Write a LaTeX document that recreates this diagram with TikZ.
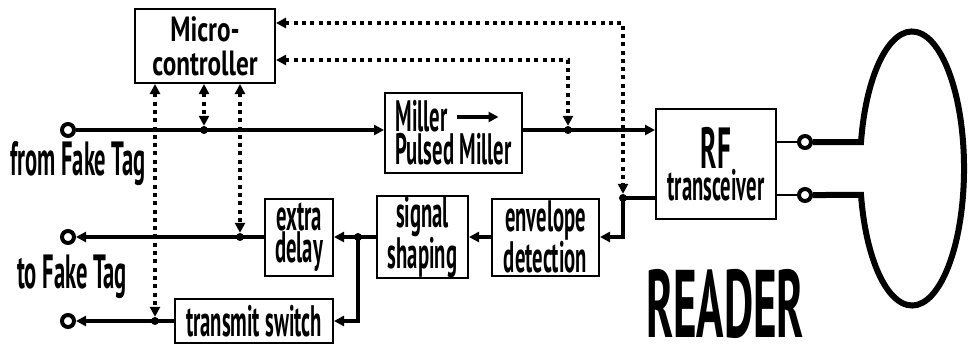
\documentclass[tikz,border=0pt]{standalone}
\usepackage{fontspec}
\setmainfont[FakeStretch=0.47]{PT Sans}
\newfontfamily\mcufont[FakeStretch=0.72]{PT Sans}
\newfontfamily\lblfont[FakeStretch=0.47]{PT Sans}
\usetikzlibrary{arrows.meta}

\begin{document}
\begin{tikzpicture}[
  x=1pt,y=-1pt,
  block/.style={draw,line width=2pt,inner sep=0pt,align=center,font=\bfseries\fontsize{44}{31}\selectfont},
  wire/.style={line width=4pt},
  ctrl/.style={line width=4pt,dash pattern=on 4pt off 4.3pt},
  tip/.style={-{Triangle[length=10pt,width=10pt]}},
  tips/.style={{Triangle[length=10pt,width=10pt]}-{Triangle[length=10pt,width=10pt]}},
  terminal/.style={circle,draw,line width=4pt,fill=white,minimum size=12pt,inner sep=0pt},
  junction/.style={circle,fill,minimum size=8pt,inner sep=0pt},
  lbl/.style={inner sep=0pt,font=\lblfont\bfseries\fontsize{48}{48}\selectfont}
]
\useasboundingbox (0,0) rectangle (968,349);

% blocks
\node[block,minimum width=140pt,minimum height=74pt,font=\mcufont\bfseries\fontsize{35}{34}\selectfont] (mcu) at (205,46)
  {Micro-\\controller};
\node[block,minimum width=137pt,minimum height=80pt,align=left] (miller) at (453.5,133)
  {Miller\hspace{48pt}\\Pulsed Miller};
\node[block,minimum width=120pt,minimum height=110pt] (rf) at (716,164)
  {{\fontsize{58}{40}\selectfont RF}\\transceiver};
\node[block,minimum width=107pt,minimum height=77pt] (env) at (545.5,237)
  {envelope\\detection};
\node[block,minimum width=91pt,minimum height=77pt] (shape) at (422.5,237)
  {signal\\shaping};
\node[block,minimum width=68pt,minimum height=77pt] (delay) at (299,237)
  {extra\\delay};
\node[block,minimum width=158pt,minimum height=44pt] (switch) at (254,321)
  {transmit switch};
\draw[line width=3.5pt,tip] ([xshift=3.5pt,yshift=16pt]miller.center) -- ([xshift=45pt,yshift=16pt]miller.center);

% terminals and junctions
\node[terminal] (inA) at (68,130) {};
\node[terminal] (outA) at (68,237) {};
\node[terminal] (outB) at (68,321) {};
\node[terminal] (ant1) at (805,142) {};
\node[terminal] (ant2) at (805,195) {};
\node[junction] (j1) at (204,130) {};
\node[junction] (j2) at (568,130) {};
\node[junction] (j3) at (623,198) {};
\node[junction] (j4) at (358,237) {};
\node[junction] (j5) at (240,237) {};
\node[junction] (j6) at (155,321) {};

% signal path
\draw[wire,tip] (inA) -- (inA -| miller.west);
\draw[wire,tip] (miller.east |- inA) -- (rf.west |- inA);
\draw[wire,tip] (rf.west |- j3) -- (j3.center) |- (env.east);
\draw[wire,tip] (env.west) -- (shape.east);
\draw[wire] (shape.west) -- (j4.center);
\draw[wire,tip] (j4.center) -- (delay.east);
\draw[wire,tip] (j4.center) |- (switch.east);
\draw[wire,tip] (delay.west) -- (outA);
\draw[wire,tip] (switch.west) -- (outB);

% control lines
\draw[ctrl,tips] (mcu.south -| j6) -- (j6);
\draw[ctrl,tips] (mcu.south -| j1) -- (j1);
\draw[ctrl,tips] (mcu.south -| j5) -- (j5);
\draw[ctrl,tips] ([yshift=-14pt]mcu.east) -| (j2);
\draw[ctrl,tips] ([yshift=23pt]mcu.east) -| (j3);

% antenna
\coordinate (loopA) at (861,142);
\coordinate (loopB) at (861,195);
\draw[line width=2.5pt] (rf.east |- ant1) -- (ant1);
\draw[line width=2.5pt] (rf.east |- ant2) -- (ant2);
\draw[line width=6pt] (ant1) -- (loopA)
  arc[start angle=168.85,end angle=-168.85,x radius=52pt,y radius=137pt] -- (ant2);

% labels
\node[lbl] (fromlbl) at (78,164) {from Fake Tag};
\node[lbl] (tolbl) at (72,277) {to Fake Tag};
\node[inner sep=0pt,anchor=base,font=\bfseries\fontsize{96}{96}\selectfont] (reader) at (725,337) {READER};
\end{tikzpicture}
\end{document}
